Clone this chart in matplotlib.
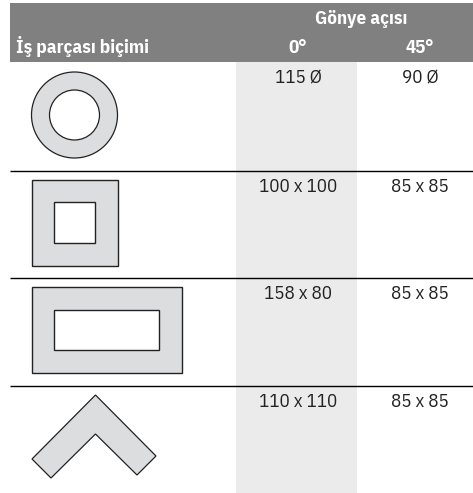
import matplotlib
matplotlib.use('Agg')
import matplotlib.pyplot as plt
from matplotlib.patches import Circle, Polygon, Rectangle

# table text
header_top = 'Gönye açısı'
header_first = 'İş parçası biçimi'
angles = ['0°', '45°']
values_0 = ['115 Ø', '100 x 100', '158 x 80', '110 x 110']
values_45 = ['90 Ø', '85 x 85', '85 x 85', '85 x 85']

W, H = 473, 493
plt.rcParams['font.family'] = ['IBM Plex Sans Condensed', 'Roboto Condensed', 'Liberation Sans', 'DejaVu Sans']

fig = plt.figure(figsize=(W / 100, H / 100), dpi=100)
ax = fig.add_axes([0, 0, 1, 1])
ax.set_xlim(0, W)
ax.set_ylim(H, 0)
ax.axis('off')

head_col = '#808080'
col_col = '#ebebeb'
shape_col = '#dcddde'
edge = '#222222'

# bands
ax.add_patch(Rectangle((10, 3), 463, 59, fc=head_col, ec='none'))
ax.add_patch(Rectangle((236, 62), 121, 431, fc=col_col, ec='none'))

# row lines
row_tops = [62, 170.5, 277.5, 385.5]
for y in row_tops[1:]:
    ax.plot([10, 473], [y, y], color='black', lw=1.0, solid_capstyle='butt')

# header
ax.text(361, 24, header_top, color='white', fontsize=13.7, fontweight='bold', ha='center', va='baseline')
ax.text(16, 53, header_first, color='white', fontsize=13.7, fontweight='bold', ha='left', va='baseline')
ax.text(298, 53, angles[0], color='white', fontsize=13.7, fontweight='bold', ha='center', va='baseline')
ax.text(420, 53, angles[1], color='white', fontsize=13.7, fontweight='bold', ha='center', va='baseline')

# values
for y, a, b in zip(row_tops, values_0, values_45):
    ax.text(298, y + 21.5, a, color='#222222', fontsize=13.7, ha='center', va='baseline')
    ax.text(420, y + 21.5, b, color='#222222', fontsize=13.7, ha='center', va='baseline')

# ring
ax.add_patch(Circle((74.5, 115), 43, fc=shape_col, ec=edge, lw=0.9))
ax.add_patch(Circle((74.5, 115), 25, fc='white', ec=edge, lw=0.9))

# square and rectangle profiles
ax.add_patch(Rectangle((32, 180), 86, 86, fc=shape_col, ec=edge, lw=1.0))
ax.add_patch(Rectangle((54, 202), 41, 41, fc='white', ec=edge, lw=1.0))
ax.add_patch(Rectangle((32, 287), 150, 86, fc=shape_col, ec=edge, lw=1.0))
ax.add_patch(Rectangle((54, 310), 105, 40, fc='white', ec=edge, lw=1.0))

# angle profile
ax.add_patch(Polygon([(32, 459), (95.5, 395), (156, 456), (137, 475), (95.5, 434), (51, 478)],
                     closed=True, fc=shape_col, ec=edge, lw=0.9))

fig.savefig('out.png', dpi=100)
